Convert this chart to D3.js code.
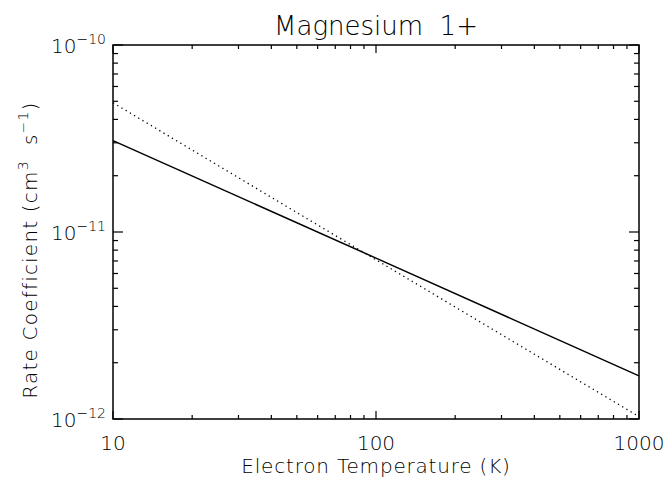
<!DOCTYPE html>
<html>
<head>
<meta charset="utf-8">
<script src="https://cdn.jsdelivr.net/npm/d3@7"></script>
<style>
  body { margin: 0; background: #fff; }
  text { font-family: "DejaVu Sans", sans-serif; font-weight: 200; fill: #000; }
</style>
</head>
<body>
<script>
var temps = [10, 100, 1000];
var solidRates = [3.08e-11, 7.25e-12, 1.70e-12];
var dottedRates = [4.91e-11, 7.1e-12, 1.03e-12];
var xTickLabels = ["10", "100", "1000"];
var yTickExps = ["−12", "−11", "−10"];

function init() {
    var w = 668;
    var h = 481;
    var left = 113, right = 639, top = 45, bottom = 419;

    var svg = d3.select("body").append("svg")
        .attr("width", w)
        .attr("height", h);

    var xScale = d3.scaleLog().domain([10, 1000]).range([left, right]);
    var yScale = d3.scaleLog().domain([1e-12, 1e-10]).range([bottom, top]);

    // minor + major ticks
    var xTicks = xScale.ticks();
    var yTicks = yScale.ticks();
    var isMajor = function (v) {
        var l = Math.log10(v);
        return Math.abs(l - Math.round(l)) < 1e-6;
    };

    var ticks = svg.append("g")
        .attr("stroke", "#000")
        .attr("stroke-width", 1.2);

    xTicks.forEach(function (v) {
        var x = xScale(v);
        var len = isMajor(v) ? 8 : 4;
        ticks.append("line").attr("x1", x).attr("x2", x)
            .attr("y1", bottom).attr("y2", bottom - len);
        ticks.append("line").attr("x1", x).attr("x2", x)
            .attr("y1", top).attr("y2", top + len);
    });
    yTicks.forEach(function (v) {
        var y = yScale(v);
        var len = isMajor(v) ? 10 : 5;
        ticks.append("line").attr("x1", left).attr("x2", left + len)
            .attr("y1", y).attr("y2", y);
        ticks.append("line").attr("x1", right).attr("x2", right - len)
            .attr("y1", y).attr("y2", y);
    });

    // frame
    svg.append("rect")
        .attr("x", left).attr("y", top)
        .attr("width", right - left).attr("height", bottom - top)
        .attr("fill", "none")
        .attr("stroke", "#000")
        .attr("stroke-width", 1.5);

    // lines
    var line = d3.line()
        .x(function (d) { return xScale(d[0]); })
        .y(function (d) { return yScale(d[1]); });

    svg.append("path")
        .datum(d3.zip(temps, solidRates))
        .attr("d", line)
        .attr("fill", "none")
        .attr("stroke", "#000")
        .attr("stroke-width", 1.5);

    svg.append("path")
        .datum(d3.zip(temps, dottedRates))
        .attr("d", line)
        .attr("fill", "none")
        .attr("stroke", "#000")
        .attr("stroke-width", 1.3)
        .attr("stroke-dasharray", "1.3,3.6");

    // x tick labels
    [10, 100, 1000].forEach(function (v, i) {
        svg.append("text")
            .attr("x", xScale(v))
            .attr("y", 450)
            .attr("text-anchor", "middle")
            .style("font-size", "20px")
            .text(xTickLabels[i]);
    });

    // y tick labels
    [1e-12, 1e-11, 1e-10].forEach(function (v, i) {
        var y = yScale(v);
        var t = svg.append("text")
            .attr("x", 106)
            .attr("y", y + 8)
            .attr("text-anchor", "end")
            .style("font-size", "20px");
        t.append("tspan").text("10");
        t.append("tspan")
            .attr("dy", -9)
            .style("font-size", "14px")
            .text(yTickExps[i]);
    });

    // title
    svg.append("text")
        .attr("x", (left + right) / 2)
        .attr("y", 35)
        .attr("text-anchor", "middle")
        .attr("xml:space", "preserve")
        .style("font-size", "26px")
        .text("Magnesium  1+");

    // x title
    svg.append("text")
        .attr("x", (left + right) / 2)
        .attr("y", 473)
        .attr("text-anchor", "middle")
        .style("font-size", "20px")
        .style("letter-spacing", "0.8px")
        .text("Electron Temperature (K)");

    // y title
    var yt = svg.append("text")
        .attr("transform", "translate(37,250) rotate(-90)")
        .attr("text-anchor", "middle")
        .attr("xml:space", "preserve")
        .style("font-size", "20px")
        .style("letter-spacing", "1.2px");
    yt.append("tspan").text("Rate Coefficient (cm");
    yt.append("tspan").attr("dy", -9).style("font-size", "14px").text("3");
    yt.append("tspan").attr("dy", 9).text("  s");
    yt.append("tspan").attr("dy", -9).style("font-size", "14px").text("−1");
    yt.append("tspan").attr("dy", 9).text(")");
}

window.onload = init;
</script>
</body>
</html>
